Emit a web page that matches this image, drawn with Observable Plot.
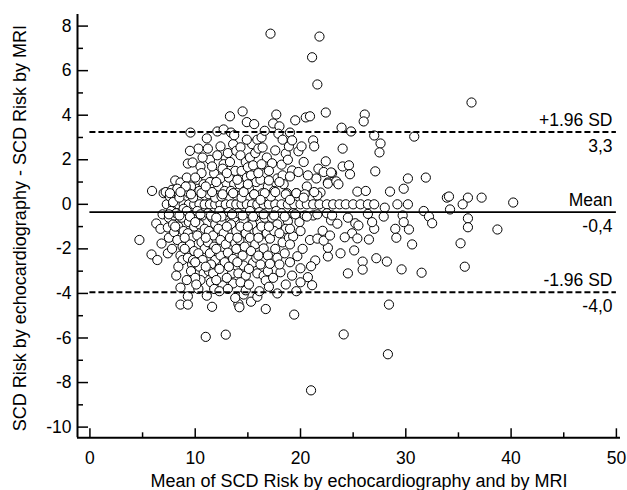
<!DOCTYPE html>
<html><head><meta charset="utf-8">
<script src="https://cdn.jsdelivr.net/npm/d3@7"></script>
<script src="https://cdn.jsdelivr.net/npm/@observablehq/plot@0.6"></script>
<style>body{margin:0;background:#fff} svg{display:block}</style>
</head><body><div id="chart"></div>
<script>
// [mean of the two methods, difference echo - MRI]
const points = [
// row at zero difference
[7.3,0],[7.9,0],[8.4,0],[8.9,0],[9.4,0],[9.9,0],[10.4,0],[10.9,0],[11.4,0],[11.9,0],[12.4,0],[12.9,0],[13.4,0],[13.9,0],[14.4,0],[14.9,0],[15.4,0],[15.9,0],[16.5,0],[17.0,0],[17.6,0],[18.2,0],[18.8,0],[19.4,0],[20.0,0],[20.6,0],[21.2,0],[21.8,0],[22.5,0],[23.1,0],[23.7,0],[24.3,0],[25.0,0],[25.7,0],[26.4,0],[27.0,0],[29.2,0],[30.2,0],
// x 4-8
[4.7,-1.6],[5.9,0.6],[5.85,-2.25],[6.4,-2.5],[6.8,-1.76],[7.4,-2.2],[6.3,-0.86],[6.7,-1.1],[7.4,-1.04],[7.0,0.5],[6.9,-0.45],[7.5,-0.6],
[7.2,0.55],[7.6,0.35],[7.8,0.65],[7.7,-0.3],[7.9,-0.9],[7.5,-1.5],[8.0,-1.25],[7.8,-2.0],[8.0,-0.5],[7.9,0.1],
// x 8-9
[8.1,1.07],[8.6,0.98],[8.3,0.7],[8.8,0.6],[8.5,0.3],[8.2,-0.4],[8.7,-0.6],[8.4,-1.0],[8.9,-1.2],[8.3,-1.6],[8.8,-1.9],[8.6,-2.3],[8.8,-2.5],[8.6,-3.74],[8.6,-4.5],[8.9,-0.2],[8.4,-2.8],
// x 9-10
[9.3,1.83],[9.75,1.88],[9.55,3.22],[9.2,1.2],[9.6,0.8],[9.4,0.5],[9.8,0.3],[9.2,-0.3],[9.7,-0.5],[9.4,-0.8],[9.9,-1.0],[9.3,-1.3],[9.7,-1.5],[9.5,-1.8],[9.9,-2.1],[9.3,-2.4],[9.7,-2.7],[9.3,-4.13],[9.3,-4.5],[9.6,-3.0],[9.8,-2.5],[9.1,0.8],
// x 10-11
[10.5,1.7],[10.2,1.1],[10.3,2.5],[11.1,2.96],[11.2,2.5],[10.3,-3.8],[10.6,1.4],[10.8,0.9],[10.4,0.6],[10.9,0.4],[10.2,-0.3],[10.7,-0.5],[10.4,-0.9],[10.9,-1.1],[10.2,-1.4],[10.6,-1.7],[10.9,-2.0],[10.3,-2.2],[10.7,-2.5],[10.4,-2.8],[10.8,-3.1],[10.5,-3.4],[11.0,-5.95],
// x 11-12
[11.6,-4.6],[11.8,1.39],[11.4,1.0],[11.7,0.7],[11.3,0.45],[11.9,0.3],[11.2,-0.4],[11.6,-0.6],[11.9,-0.9],[11.3,-1.2],[11.7,-1.4],[11.2,-1.7],[11.8,-1.9],[11.4,-2.2],[11.9,-2.5],[11.5,-2.7],[11.3,-3.0],[11.7,-3.1],[11.5,-3.5],[11.8,-3.8],[11.4,2.0],[11.6,1.7],
// x 12-13
[12.1,3.27],[12.7,3.36],[12.1,2.2],[12.9,2.05],[12.7,1.8],[12.6,1.6],[12.4,1.16],[12.2,0.8],[12.8,0.6],[12.5,0.35],[12.3,-0.3],[12.8,-0.5],[12.5,-0.8],[12.2,-1.1],[12.7,-1.3],[12.4,-1.6],[12.9,-1.8],[12.4,-2.3],[12.8,-2.6],[12.3,-2.9],[12.6,-3.64],[12.9,-5.85],
// x 13-14
[13.3,3.95],[13.4,3.22],[13.1,2.3],[13.6,2.7],[13.9,2.4],[13.3,1.9],[13.8,1.5],[13.2,1.2],[13.7,0.9],[13.4,0.6],[13.9,0.4],[13.2,-0.35],[13.7,-0.6],[13.4,-0.9],[13.9,-1.2],[13.3,-1.5],[13.8,-1.75],[13.1,-2.17],[13.6,-2.45],[13.5,-3.1],[13.6,-3.55],[13.2,-2.8],[13.9,-2.0],
// x 14-15
[14.5,4.17],[14.9,3.69],[14.3,2.56],[14.3,2.2],[14.8,1.9],[14.4,1.5],[14.9,1.2],[14.2,0.9],[14.7,0.6],[14.4,0.3],[14.1,-0.4],[14.6,-0.7],[14.3,-1.0],[14.8,-1.3],[14.2,-1.6],[14.7,-1.9],[14.5,-2.3],[14.6,-2.75],[14.1,-3.1],[14.8,-3.2],[14.6,-4.05],[14.1,-4.47],[14.2,-4.62],[14.8,-3.86],[14.3,-3.5],
// x 15-16
[15.6,3.6],[15.2,2.1],[15.7,2.3],[15.0,1.66],[15.5,1.75],[15.3,1.3],[15.8,1.0],[15.1,0.7],[15.6,0.45],[15.2,-0.3],[15.7,-0.55],[15.4,-0.9],[15.9,-1.2],[15.2,-1.5],[15.7,-1.8],[15.3,-2.1],[15.5,-2.62],[15.9,-3.1],[15.3,-4.37],[15.9,-4.15],[15.8,-2.4],[15.1,-2.9],[15.4,2.7],[15.9,2.9],
// x 16-17
[16.0,2.5],[16.4,2.55],[16.8,2.1],[16.3,1.8],[16.7,1.4],[16.2,1.1],[16.9,0.8],[16.4,0.5],[16.1,-0.35],[16.6,-0.6],[16.3,-1.0],[16.8,-1.3],[16.4,-1.71],[16.5,-1.98],[16.9,-2.3],[16.5,-3.2],[16.7,-3.42],[16.7,-4.7],[16.2,-2.7],[16.9,-3.0],[16.3,3.0],
// x 17-18
[17.15,7.66],[17.7,4.03],[17.4,3.63],[18.0,3.5],[17.9,3.17],[17.6,2.42],[17.3,1.84],[17.8,1.16],[17.0,1.07],[17.5,0.6],[17.2,0.35],[17.7,-0.3],[17.3,-0.6],[17.8,-0.9],[17.1,-1.54],[17.5,-1.2],[17.8,-2.4],[17.1,-2.67],[17.8,-4.0],[17.4,-3.3],[17.6,-2.0],
// x 18-19
[18.2,1.78],[18.6,2.28],[18.8,2.0],[18.9,2.6],[18.1,-3.05],[18.3,-1.71],[18.8,-0.76],[18.4,0.9],[18.7,0.5],[18.2,-0.4],[18.6,-1.1],[18.5,-2.2],[18.9,-1.5],[18.3,1.3],
// x 19-20
[19.5,3.77],[19.0,3.22],[19.2,2.87],[19.8,2.38],[19.2,1.52],[19.8,1.45],[19.0,1.25],[19.3,-1.44],[19.0,-1.1],[19.7,-2.33],[19.2,-3.2],[19.4,-4.95],[19.6,0.5],[19.3,-0.4],[19.9,-0.8],
// x 20-21
[20.5,3.9],[20.9,3.95],[20.6,0.8],[20.0,-2.87],[20.7,-3.27],[20.3,1.9],[20.4,-0.5],[20.9,-1.6],[20.2,-2.0],
// x 21-22
[21.2,2.87],[21.3,2.6],[21.5,1.16],[21.4,-2.52],[21.0,-2.78],[21.1,-3.63],[21.6,-1.54],[21.8,7.53],[21.1,6.6],[21.6,5.38],[21.0,-8.35],[21.9,0.53],[21.6,0.4],[21.2,-0.5],[21.7,1.6],
// x 22-23
[22.4,4.12],[22.4,1.93],[22.2,1.45],[23.0,1.4],[22.6,0.98],[22.9,1.43],[22.6,-2.34],[22.6,-1.95],[22.2,-1.63],[22.1,-1.19],[22.9,-0.72],[22.6,0.93],[22.5,-0.4],
// x 23-25
[23.4,1.03],[23.9,3.44],[24.8,3.27],[24.0,2.5],[24.0,1.7],[24.6,1.75],[24.7,1.35],[24.1,-5.84],[24.5,-0.6],[23.5,-0.87],[24.9,-1.3],[24.2,-1.48],[23.6,0.9],
// x 25-27
[25.4,0.57],[25.2,-0.85],[25.5,-0.95],[26.4,-0.43],[25.4,-1.53],[26.5,-1.58],[25.1,-2.07],[25.9,-2.57],[25.9,-2.93],[26.1,4.03],[26.0,3.72],[27.0,3.09],[27.1,1.48],[27.0,-1.1],[26.2,0.6],
// x 27-31
[27.6,2.73],[27.5,2.33],[28.5,0.57],[28.0,-0.15],[27.9,-0.55],[29.7,-0.5],[29.0,-1.1],[30.3,-1.13],[29.1,-1.5],[30.6,-1.8],[27.2,-2.42],[28.2,-2.57],[29.6,-2.92],[28.4,-4.5],[28.3,-6.73],[30.8,3.04],[30.2,1.16],[29.8,0.7],[29.8,-0.8],
// x above 31
[36.24,4.57],[31.9,1.2],[33.9,0.3],[34.1,0.35],[34.2,-0.23],[35.9,0.3],[35.4,0.0],[37.2,0.3],[40.2,0.08],[31.7,-0.3],[32.2,-0.55],[32.5,-0.85],[35.9,-0.63],[35.9,-1.03],[38.7,-1.13],[35.2,-1.75],[35.6,-2.8],[31.5,-3.07],
// extra dense core
[7.6,0.5],[8.6,0.55],[9.6,0.45],[10.6,0.5],[11.6,0.55],[12.6,0.45],[13.6,0.5],[14.6,0.55],[15.6,0.45],[16.6,0.5],[17.6,0.55],[18.6,0.45],[19.6,0.5],[20.4,0.45],[21.3,0.55],
[7.5,-0.45],[8.5,-0.5],[9.5,-0.55],[10.5,-0.45],[11.5,-0.5],[12.5,-0.55],[13.5,-0.45],[14.5,-0.5],[15.5,-0.55],[16.5,-0.45],[17.5,-0.5],[18.5,-0.55],[19.5,-0.45],[20.6,-0.55],[21.6,-0.45],[23.0,-0.5],
[8.1,-1.0],[9.0,-1.5],[10.0,-0.8],[11.0,-1.5],[12.0,-0.6],[13.0,-1.0],[14.0,-1.5],[15.0,-1.0],[16.0,-1.5],[17.0,-1.0],[18.0,-1.3],[19.0,-1.8],[20.0,-1.2],[12.0,1.0],[13.0,1.4],[14.0,1.1],[15.0,0.9],[16.0,1.4],[17.0,1.5],[18.0,1.0],[10.0,1.2],[11.0,0.8],[9.0,-2.0],[10.0,-2.6],[12.0,-2.0],[13.0,-3.3],[14.0,-2.6],[16.0,-2.3],[18.0,-2.7],[20.0,-3.5],[11.0,-2.8],[10.0,-3.3],[12.0,-3.4],[17.0,-3.7],[19.0,-2.6],[20.3,0.3],[19.0,0.2],[16.2,0.2],
[9.2,-3.4],[10.1,-3.6],[11.1,-4.1],[12.3,-3.9],[13.1,-3.8],[13.8,-4.2],[15.1,-3.6],[16.1,-3.9],[18.6,-3.6],[19.6,-3.9],[8.2,-3.2],[9.5,2.4],[10.7,2.1],[12.4,2.6],[13.7,3.1],[14.9,2.9],[16.6,3.3],[18.3,2.9],[20.1,2.6],[20.7,1.3],[22.8,-1.4],[23.8,-2.2],[24.5,-3.1],[26.8,-0.8]
];

const refValues = [3.25, -0.35, -3.95];
const refNames = ["+1.96 SD", "Mean", "-1.96 SD"];
const refLabels = ["3,3", "-0,4", "-4,0"];

const xTicks = [0, 10, 20, 30, 40, 50];
const xMinor = [5, 15, 25, 35, 45];
const yTicks = [-10, -8, -6, -4, -2, 0, 2, 4, 6, 8];
const yMinor = [-9, -7, -5, -3, -1, 1, 3, 5, 7];

const xTitle = "Mean of SCD Risk by echocardiography and by MRI";
const yTitle = "SCD Risk by echocardiography - SCD Risk by MRI";

const W = 627, H = 490;
const mL = 77, mR = 7, mT = 14, mB = 52.7;
const plotW = W - mL - mR, plotH = H - mT - mB;
const xDomain = [-1.18, 50.39];
const yDomain = [-10.48, 8.52];

const refs = refValues.map((v, i) => ({v, name: refNames[i], label: refLabels[i], dashed: i !== 1}));
const font = "'Liberation Sans', Arial, sans-serif";

const chart = Plot.plot({
  width: W, height: H,
  marginLeft: mL, marginRight: mR, marginTop: mT, marginBottom: mB,
  style: {fontFamily: font, fontSize: "17.5px", color: "black", background: "white"},
  x: {domain: xDomain, ticks: xTicks, tickSize: 0, tickPadding: 13.4, tickFormat: d => String(d), label: null},
  y: {domain: yDomain, ticks: yTicks, tickSize: 0, tickPadding: 6, tickFormat: d => String(d), label: null},
  marks: [
    Plot.dot(points, {x: d => d[0], y: d => d[1], r: 4.6, stroke: "black", fill: "white", strokeWidth: 1}),
    Plot.ruleY(refs.filter(d => d.dashed), {y: "v", x1: xTicks[0], x2: xTicks[xTicks.length - 1], stroke: "black", strokeWidth: 2, strokeDasharray: "6,3"}),
    Plot.ruleY(refs.filter(d => !d.dashed), {y: "v", x1: xTicks[0], x2: xTicks[xTicks.length - 1], stroke: "black", strokeWidth: 1.6}),
    Plot.text(refs, {y: "v", text: "name", frameAnchor: "right", textAnchor: "end", lineAnchor: "bottom", dx: -8, dy: -6, fontSize: 17.5, fill: "black"}),
    Plot.text(refs, {y: "v", text: "label", frameAnchor: "right", textAnchor: "end", lineAnchor: "top", dx: -8, dy: 7.6, fontSize: 17.5, fill: "black"}),
    // axis lines
    Plot.ruleX([xDomain[0]], {stroke: "black", strokeWidth: 2}),
    Plot.ruleY([yDomain[0]], {stroke: "black", strokeWidth: 2}),
    // inward ticks
    Plot.tickY(yTicks, {y: d => d, insetRight: plotW - 11, stroke: "black", strokeWidth: 1.5}),
    Plot.tickY(yMinor, {y: d => d, insetRight: plotW - 6, stroke: "black", strokeWidth: 1.5}),
    Plot.tickX(xTicks, {x: d => d, insetTop: plotH - 9, stroke: "black", strokeWidth: 1.5}),
    Plot.tickX(xMinor, {x: d => d, insetTop: plotH - 5, stroke: "black", strokeWidth: 1.5}),
    // axis titles
    Plot.text([xTitle], {text: d => d, frameAnchor: "bottom", textAnchor: "middle", lineAnchor: "bottom", dx: 10, dy: 48.7, fontSize: 18, fill: "black"}),
    Plot.text([yTitle], {text: d => d, frameAnchor: "left", textAnchor: "middle", rotate: -90, lineAnchor: "bottom", dx: -51.5, dy: 2, fontSize: 18, fill: "black"})
  ]
});
document.getElementById("chart").appendChild(chart);
</script>
</body></html>
